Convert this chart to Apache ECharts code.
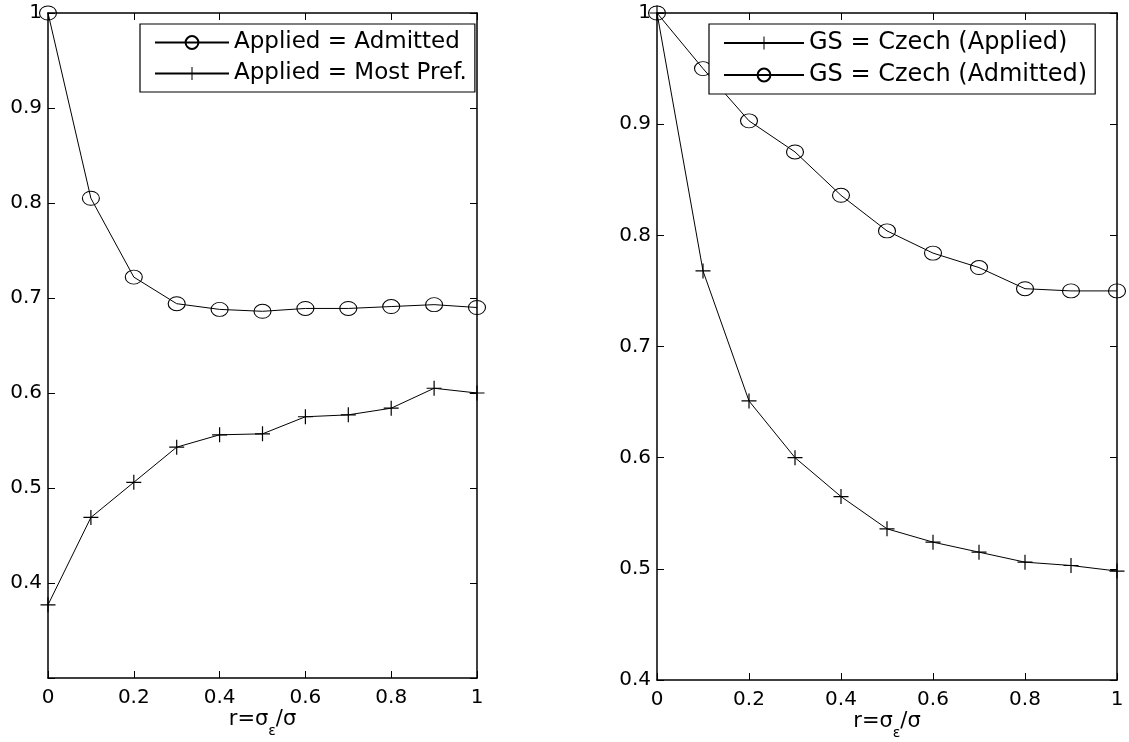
<!DOCTYPE html>
<html>
<head>
<meta charset="utf-8">
<script src="https://cdn.jsdelivr.net/npm/echarts@6/dist/echarts.min.js"></script>
<style>
  html, body { margin: 0; padding: 0; background: #fff; }
  #chart { width: 1129px; height: 742px; }
</style>
</head>
<body>
<div id="chart"></div>
<script>
// r = sigma_eps / sigma
var rValues = [0, 0.1, 0.2, 0.3, 0.4, 0.5, 0.6, 0.7, 0.8, 0.9, 1];

// left panel
var appliedAdmitted = [1, 0.805, 0.722, 0.694, 0.688, 0.686, 0.689, 0.689, 0.691, 0.693, 0.690];
var appliedMostPref = [0.377, 0.469, 0.506, 0.543, 0.556, 0.557, 0.575, 0.577, 0.584, 0.605, 0.600];

// right panel
var gsCzechApplied = [1, 0.768, 0.651, 0.600, 0.565, 0.536, 0.524, 0.515, 0.506, 0.503, 0.498];
var gsCzechAdmitted = [1, 0.950, 0.903, 0.875, 0.836, 0.804, 0.784, 0.771, 0.752, 0.750, 0.750];

var FONT = 'DejaVu Sans';
var plusIcon = 'path://M0,4.6 H10 V5.4 H0 Z M4.6,0 H5.4 V10 H4.6 Z';

function pairs(ys) {
  return rValues.map(function (x, i) { return [x, ys[i]]; });
}

var chart = echarts.init(document.getElementById('chart'));

function xAx(gridIndex, pos) {
  var bottom = pos === 'bottom';
  return {
    type: 'value', gridIndex: gridIndex, position: pos,
    min: 0, max: 1, interval: 0.2,
    axisLine: { show: true, onZero: false, lineStyle: { color: '#000', width: 1.5 } },
    axisTick: { show: true, inside: true, length: 7, lineStyle: { color: '#000', width: 1 } },
    axisLabel: { show: bottom, color: '#000', fontFamily: FONT, fontSize: 20, margin: 10,
      formatter: function (v) { return String(+v.toFixed(1)); } },
    splitLine: { show: false },
    name: bottom ? '{t|r=σ}{s|ε}{t|/σ}' : '',
    nameLocation: 'middle', nameGap: 30, nameMoveOverlap: false,
    nameTextStyle: {
      rich: {
        t: { fontFamily: FONT, fontSize: 21, color: '#000', lineHeight: 24 },
        s: { fontFamily: FONT, fontSize: 14, color: '#000', lineHeight: 24, padding: [22, 0, 0, 0] }
      }
    }
  };
}

function yAx(gridIndex, pos, min, hideMin) {
  var left = pos === 'left';
  return {
    type: 'value', gridIndex: gridIndex, position: pos,
    min: min, max: 1, interval: 0.1,
    axisLine: { show: true, onZero: false, lineStyle: { color: '#000', width: 1.5 } },
    axisTick: { show: true, inside: true, length: 7, lineStyle: { color: '#000', width: 1 } },
    axisLabel: { show: left, color: '#000', fontFamily: FONT, fontSize: 20, margin: 6,
      formatter: function (v) {
        if (hideMin && v < min + 0.05) return '';
        return String(+v.toFixed(1));
      } },
    splitLine: { show: false }
  };
}

function lineSeries(name, ys, xi, yi, symbol) {
  var isCircle = symbol === 'circle';
  return {
    name: name, type: 'line', xAxisIndex: xi, yAxisIndex: yi,
    data: pairs(ys), clip: false,
    symbol: isCircle ? 'circle' : plusIcon,
    symbolSize: isCircle ? [17, 14] : 15,
    showAllSymbol: true,
    lineStyle: { color: '#000', width: 1 },
    itemStyle: isCircle ? { color: 'rgba(0,0,0,0)', borderColor: '#000', borderWidth: 1 } : { color: '#000' },
    emphasis: { disabled: true },
    animation: false
  };
}

var legendBase = {
  orient: 'vertical', top: 24,
  backgroundColor: '#fff', borderColor: '#000', borderWidth: 1.2,
  padding: [7, 8, 7, 14],
  itemWidth: 74, itemHeight: 16, itemGap: 8,
  textStyle: { fontFamily: FONT, fontSize: 23, color: '#000' },
  selectedMode: false
};

var option = {
  backgroundColor: '#fff',
  animation: false,
  grid: [
    { left: 48, right: 652, top: 13, bottom: 64, outerBoundsMode: 'none' },
    { left: 657, right: 12, top: 13, bottom: 62, outerBoundsMode: 'none' }
  ],
  xAxis: [xAx(0, 'bottom'), xAx(0, 'top'), xAx(1, 'bottom'), xAx(1, 'top')],
  yAxis: [yAx(0, 'left', 0.3, true), yAx(0, 'right', 0.3, true),
          yAx(1, 'left', 0.4, false), yAx(1, 'right', 0.4, false)],
  legend: [
    Object.assign({}, legendBase, { left: 140, data: ['Applied = Admitted', 'Applied = Most Pref.'] }),
    Object.assign({}, legendBase, { left: 709, itemWidth: 80, textStyle: { fontFamily: FONT, fontSize: 24, color: '#000' },
      data: ['GS = Czech (Applied)', 'GS = Czech (Admitted)'] })
  ],
  series: [
    lineSeries('Applied = Admitted', appliedAdmitted, 0, 0, 'circle'),
    lineSeries('Applied = Most Pref.', appliedMostPref, 0, 0, 'plus'),
    lineSeries('GS = Czech (Applied)', gsCzechApplied, 2, 2, 'plus'),
    lineSeries('GS = Czech (Admitted)', gsCzechAdmitted, 2, 2, 'circle')
  ]
};

chart.setOption(option);
</script>
</body>
</html>
